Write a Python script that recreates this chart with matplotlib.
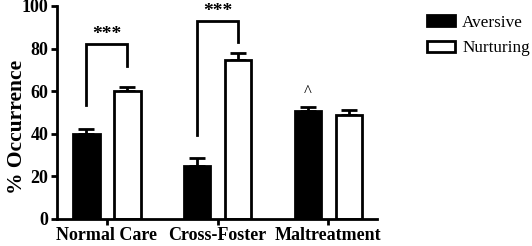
import numpy as np
import matplotlib.pyplot as plt

groups = ["Normal Care", "Cross-Foster", "Maltreatment"]
aversive = [40, 25, 50.5]
aversive_err = [2.3, 3.5, 2.0]
nurturing = [60, 74.5, 49]
nurturing_err = [2.0, 3.5, 2.0]

plt.rcParams["font.family"] = ["Liberation Serif", "DejaVu Serif"]

fig = plt.figure(figsize=(5.32, 2.46), dpi=100)
ax = fig.add_axes([0.107, 0.110, 0.602, 0.866])

x = np.arange(len(groups))
w = 0.24
off = 0.185
ekw = dict(ecolor="black", elinewidth=2, capsize=6, capthick=2, zorder=1)
# error bars drawn upward only, behind bars
ax.errorbar(x - off, aversive, yerr=[np.zeros(3), aversive_err], fmt="none", **ekw)
ax.errorbar(x + off, nurturing, yerr=[np.zeros(3), nurturing_err], fmt="none", **ekw)
ax.bar(x - off, aversive, w, color="black", edgecolor="black", linewidth=2,
       label="Aversive", zorder=2)
ax.bar(x + off, nurturing, w, color="white", edgecolor="black", linewidth=2,
       label="Nurturing", zorder=2)

# significance brackets
def bracket(i, left_y, right_y, top, text):
    ax.plot([i - off, i - off, i + off, i + off], [left_y, top, top, right_y],
            color="black", lw=2, solid_joinstyle="miter", clip_on=False)
    ax.text(i, top + 0.5, text, ha="center", va="bottom", fontsize=14, fontweight="bold")

bracket(0, 53.5, 72, 82, "***")
bracket(1, 39.5, 83, 93, "***")
ax.text(2 - off, 56, "^", ha="center", va="bottom", fontsize=12)

ax.set_xlim(-0.45, 2.44)
ax.set_ylim(0, 100)
ax.set_yticks(range(0, 101, 20))
ax.set_xticks(x)
ax.set_xticklabels(groups)
for lab in ax.get_xticklabels() + ax.get_yticklabels():
    lab.set_fontweight("bold")
    lab.set_fontsize(13)
ax.tick_params(width=2, length=4, pad=2)
ax.spines["right"].set_visible(False)
ax.spines["top"].set_visible(False)
ax.spines["left"].set_linewidth(2)
ax.spines["bottom"].set_linewidth(2)

# y label placed a bit below the axis centre, as in the original
fig.text(0.032, 0.485, "% Occurrence", rotation=90, ha="center", va="center",
         fontsize=15.5, fontweight="bold")

leg = fig.legend(*ax.get_legend_handles_labels(), loc="upper left",
                 bbox_to_anchor=(0.803, 0.94), frameon=False, borderpad=0,
                 borderaxespad=0, fontsize=12.3, handlelength=1.65, handleheight=0.6,
                 labelspacing=0.55, handletextpad=0.4)

fig.savefig("out.png", dpi=100)
